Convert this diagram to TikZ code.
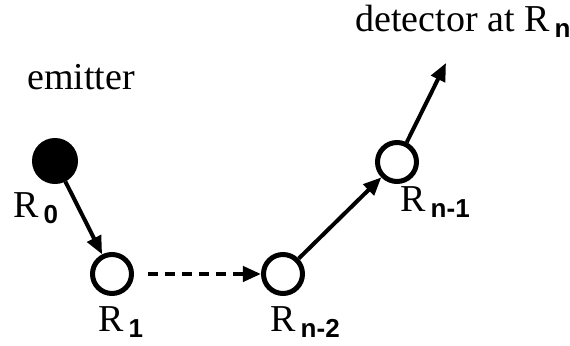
\documentclass[tikz,border=0pt]{standalone}
\usepackage{fontspec}
\setmainfont{Liberation Serif}
\newfontfamily\idxfont{Liberation Sans}
\usetikzlibrary{
  arrows.meta
}
\tikzset{
  site/.style={circle,draw,line width=2.5pt,minimum size=19.5pt,inner sep=0pt},
  source/.style={site,fill=black,minimum size=20.5pt},
  hop/.style={-{Triangle[length=9pt,width=7.5pt]},line width=2pt},
  lbl/.style={anchor=base west,inner sep=0pt,font=\fontsize{19}{22}\selectfont}
}
\newcommand{\Rsite}[1]{R\hspace{2.5pt}\raisebox{-3pt}{\idxfont\bfseries\fontsize{13}{15}\selectfont #1}}

\begin{document}
\begin{tikzpicture}[x=0.5pt,y=-0.5pt]
  \useasboundingbox (0,0) rectangle (570,346);
  % sites
  \node[source] (em) at (55,161) {};
  \node[site] (r1) at (112,274) {};
  \node[site] (rn2) at (283,274) {};
  \node[site] (rn1) at (397,162) {};
  \coordinate (tip) at (446,63);
  % labels
  \node[lbl] (emt) at (27,90) {emitter};
  \node[lbl] (det) at (355,32) {detector at \Rsite{n}};
  \node[lbl] (l0) at (13,218) {\Rsite{0}};
  \node[lbl] (l1) at (98,332) {\Rsite{1}};
  \node[lbl] (ln2) at (270,332) {\Rsite{n-2}};
  \node[lbl] (ln1) at (400,212) {\Rsite{n-1}};
  % hops
  \draw[hop] (em) -- (r1);
  \draw[hop,dash pattern=on 5pt off 3.5pt,shorten <=7pt] (r1) -- (rn2);
  \draw[hop] (rn2) -- (rn1);
  \draw[hop] (rn1) -- (tip);
\end{tikzpicture}
\end{document}
